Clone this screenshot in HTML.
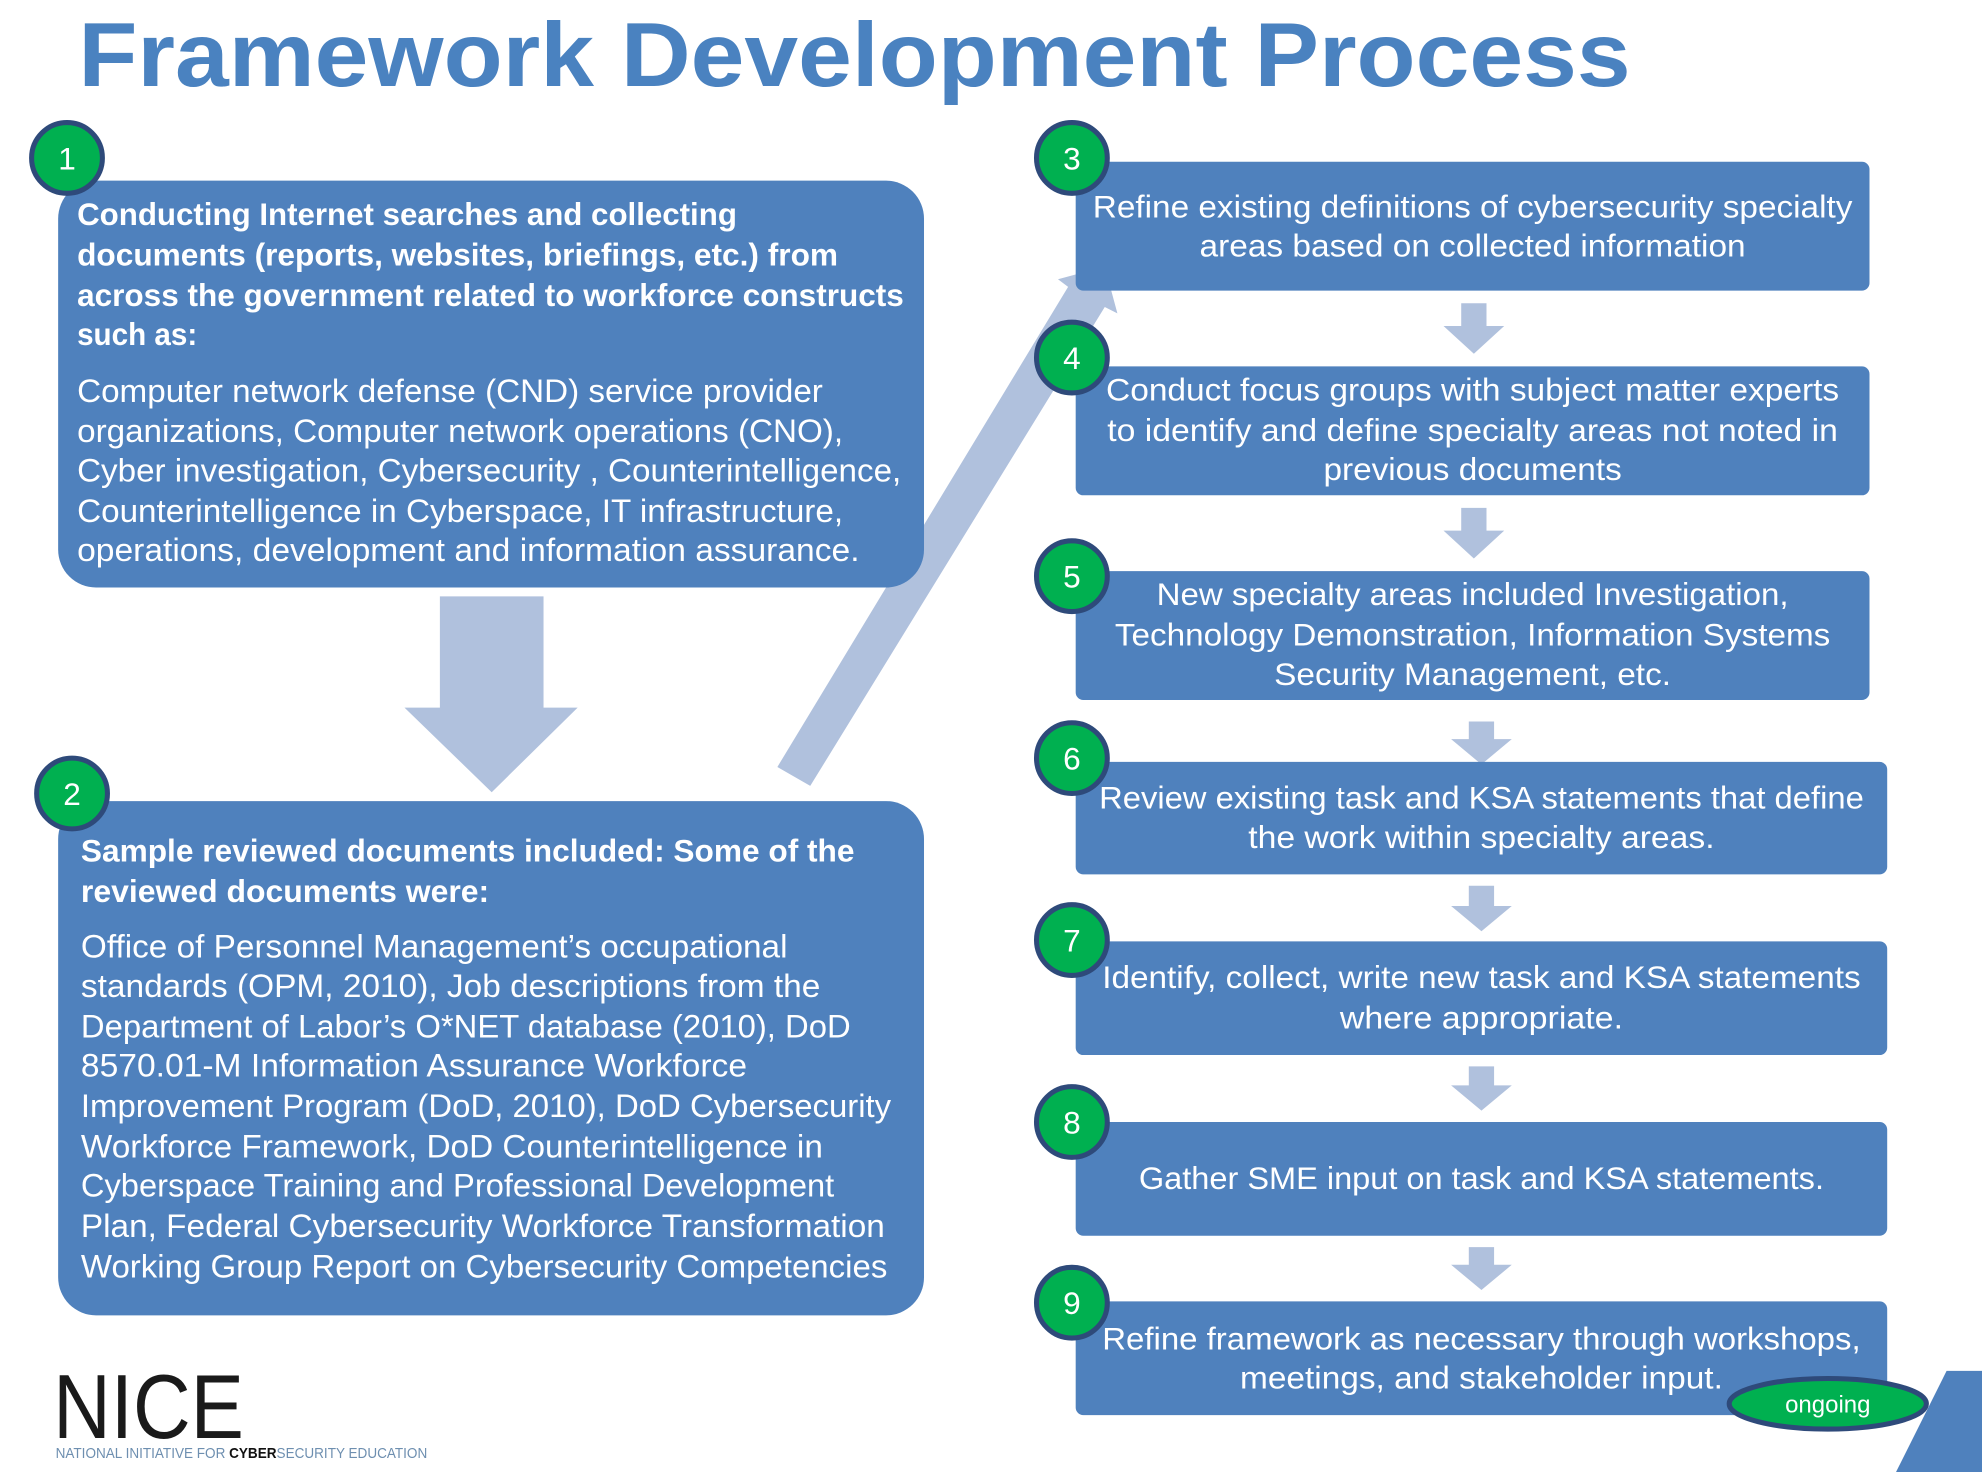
<!DOCTYPE html>
<html><head><meta charset="utf-8"><style>
html,body{margin:0;padding:0;background:#fff;}
svg{display:block;}
text{font-family:"Liberation Sans",sans-serif;}
.w{fill:#fff;font-size:25px;}
.b{fill:#fff;font-size:25px;font-weight:bold;}
.n{fill:#fff;font-size:26px;font-weight:normal;}
.num{fill:#fff;font-size:25px;text-anchor:middle;}
</style></head><body>
<svg width="1982" height="1472" viewBox="0 0 1568 1165" preserveAspectRatio="none" xmlns="http://www.w3.org/2000/svg">
<rect width="1568" height="1165" fill="#fff"/>
<text x="62" y="68" font-size="72" font-weight="bold" fill="#4A82C0" textLength="1228" lengthAdjust="spacingAndGlyphs">Framework Development Process</text>

<!-- arrows -->
<polygon points="348,472 430,472 430,560 457,560 389,627 320,560 348,560" fill="#B0C1DD"/>
<polygon points="615,607 845,227 837,221 874,211 884,248 874,243 641,622" fill="#B0C1DD"/>

<!-- Box 1 -->
<rect x="46" y="143" width="685" height="322" rx="30" fill="#4F81BD"/>
<g class="b">
<text x="61" y="178" textLength="522" lengthAdjust="spacingAndGlyphs">Conducting Internet searches and collecting</text>
<text x="61" y="210" textLength="602" lengthAdjust="spacingAndGlyphs">documents (reports, websites, briefings, etc.) from</text>
<text x="61" y="242" textLength="654" lengthAdjust="spacingAndGlyphs">across the government related to workforce constructs</text>
<text x="61" y="273" textLength="95" lengthAdjust="spacingAndGlyphs">such as:</text>
</g>
<g class="n">
<text x="61" y="318" textLength="590" lengthAdjust="spacingAndGlyphs">Computer network defense (CND) service provider</text>
<text x="61" y="350" textLength="606" lengthAdjust="spacingAndGlyphs">organizations, Computer network operations (CNO),</text>
<text x="61" y="381" textLength="652" lengthAdjust="spacingAndGlyphs">Cyber investigation, Cybersecurity , Counterintelligence,</text>
<text x="61" y="413" textLength="606" lengthAdjust="spacingAndGlyphs">Counterintelligence in Cyberspace, IT infrastructure,</text>
<text x="61" y="444" textLength="619" lengthAdjust="spacingAndGlyphs">operations, development and information assurance.</text>
</g>

<!-- Box 2 -->
<rect x="46" y="634" width="685" height="407" rx="30" fill="#4F81BD"/>
<g class="b">
<text x="64" y="682" textLength="612" lengthAdjust="spacingAndGlyphs">Sample reviewed documents included: Some of the</text>
<text x="64" y="714" textLength="323" lengthAdjust="spacingAndGlyphs">reviewed documents were:</text>
</g>
<g class="n">
<text x="64" y="758" textLength="559" lengthAdjust="spacingAndGlyphs">Office of Personnel Management’s occupational</text>
<text x="64" y="789" textLength="585" lengthAdjust="spacingAndGlyphs">standards (OPM, 2010),  Job descriptions from the</text>
<text x="64" y="821" textLength="609" lengthAdjust="spacingAndGlyphs">Department of Labor’s O*NET database (2010), DoD</text>
<text x="64" y="852" textLength="527" lengthAdjust="spacingAndGlyphs">8570.01-M Information Assurance Workforce</text>
<text x="64" y="884" textLength="641" lengthAdjust="spacingAndGlyphs">Improvement Program (DoD, 2010), DoD Cybersecurity</text>
<text x="64" y="916" textLength="587" lengthAdjust="spacingAndGlyphs">Workforce Framework, DoD Counterintelligence in</text>
<text x="64" y="947" textLength="596" lengthAdjust="spacingAndGlyphs">Cyberspace Training and Professional Development</text>
<text x="64" y="979" textLength="636" lengthAdjust="spacingAndGlyphs">Plan, Federal Cybersecurity Workforce  Transformation</text>
<text x="64" y="1011" textLength="638" lengthAdjust="spacingAndGlyphs">Working Group Report on Cybersecurity Competencies</text>
</g>

<!-- small arrows -->
<g fill="#B0C1DD">
<polygon points="1156,240 1176,240 1176,258 1190,258 1166,280 1142,258 1156,258"/>
<polygon points="1156,402 1176,402 1176,420 1190,420 1166,442 1142,420 1156,420"/>
<polygon points="1162,571 1182,571 1182,585 1196,585 1172,605 1148,585 1162,585"/>
<polygon points="1162,701 1182,701 1182,717 1196,717 1172,737 1148,717 1162,717"/>
<polygon points="1162,844 1182,844 1182,859 1196,859 1172,879 1148,859 1162,859"/>
<polygon points="1162,987 1182,987 1182,1001 1196,1001 1172,1021 1148,1001 1162,1001"/>
</g>

<!-- right boxes -->
<g fill="#4F81BD">
<rect x="851" y="128" width="628" height="102" rx="6"/>
<rect x="851" y="290" width="628" height="102" rx="6"/>
<rect x="851" y="452" width="628" height="102" rx="6"/>
<rect x="851" y="603" width="642" height="89" rx="6"/>
<rect x="851" y="745" width="642" height="90" rx="6"/>
<rect x="851" y="888" width="642" height="90" rx="6"/>
<rect x="851" y="1030" width="642" height="90" rx="6"/>
</g>
<g class="w" text-anchor="middle">
<text x="1165" y="172" textLength="601" lengthAdjust="spacingAndGlyphs">Refine existing definitions of cybersecurity specialty</text>
<text x="1165" y="203" textLength="432" lengthAdjust="spacingAndGlyphs">areas based on collected information</text>
<text x="1165" y="317" textLength="580" lengthAdjust="spacingAndGlyphs">Conduct focus groups with subject matter experts</text>
<text x="1165" y="349" textLength="578" lengthAdjust="spacingAndGlyphs">to identify and define specialty areas not noted in</text>
<text x="1165" y="380" textLength="236" lengthAdjust="spacingAndGlyphs">previous documents</text>
<text x="1165" y="479" textLength="500" lengthAdjust="spacingAndGlyphs">New specialty areas included Investigation,</text>
<text x="1165" y="511" textLength="566" lengthAdjust="spacingAndGlyphs">Technology Demonstration, Information Systems</text>
<text x="1165" y="542" textLength="314" lengthAdjust="spacingAndGlyphs">Security Management, etc.</text>
<text x="1172" y="640" textLength="605" lengthAdjust="spacingAndGlyphs">Review existing task and KSA statements that define</text>
<text x="1172" y="671" textLength="369" lengthAdjust="spacingAndGlyphs">the work within specialty areas.</text>
<text x="1172" y="782" textLength="600" lengthAdjust="spacingAndGlyphs">Identify, collect, write new task and KSA statements</text>
<text x="1172" y="814" textLength="224" lengthAdjust="spacingAndGlyphs">where appropriate.</text>
<text x="1172" y="941" textLength="542" lengthAdjust="spacingAndGlyphs">Gather SME input on task and KSA statements.</text>
<text x="1172" y="1068" textLength="600" lengthAdjust="spacingAndGlyphs">Refine framework as necessary through workshops,</text>
<text x="1172" y="1099" textLength="382" lengthAdjust="spacingAndGlyphs">meetings, and stakeholder input.</text>
</g>

<!-- number circles -->
<g fill="#00B050" stroke="#2E4A7A" stroke-width="4">
<circle cx="53" cy="125" r="28"/>
<circle cx="57" cy="628" r="28"/>
<circle cx="848" cy="125" r="28"/>
<circle cx="848" cy="283" r="28"/>
<circle cx="848" cy="456" r="28"/>
<circle cx="848" cy="600" r="28"/>
<circle cx="848" cy="744" r="28"/>
<circle cx="848" cy="888" r="28"/>
<circle cx="848" cy="1031" r="28"/>
</g>
<g class="num">
<text x="53" y="134">1</text>
<text x="57" y="637">2</text>
<text x="848" y="134">3</text>
<text x="848" y="292">4</text>
<text x="848" y="465">5</text>
<text x="848" y="609">6</text>
<text x="848" y="753">7</text>
<text x="848" y="897">8</text>
<text x="848" y="1040">9</text>
</g>

<!-- corner shape -->
<polygon points="1540,1085 1568,1085 1568,1165 1500,1165" fill="#4F81BD"/>

<!-- ongoing -->
<ellipse cx="1446" cy="1111" rx="78" ry="20" fill="#00B050" stroke="#2E4A7A" stroke-width="4"/>
<text x="1446" y="1118" fill="#fff" font-size="19" text-anchor="middle">ongoing</text>

<!-- NICE logo -->
<text x="42" y="1138" font-size="72" fill="#1a1a1a" textLength="151" lengthAdjust="spacingAndGlyphs" style="font-weight:normal">NICE</text>
<text x="44" y="1154" font-size="12" fill="#6E8FB0" textLength="294" lengthAdjust="spacingAndGlyphs">NATIONAL INITIATIVE FOR <tspan fill="#111" font-weight="bold">CYBER</tspan>SECURITY EDUCATION</text>
</svg>
</body></html>
